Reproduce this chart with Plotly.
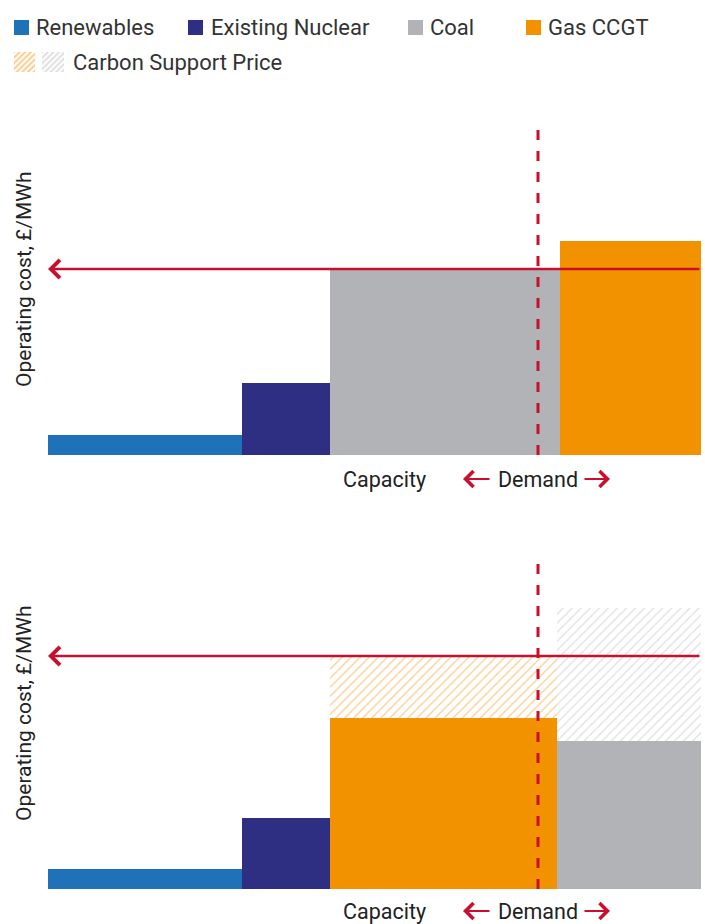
import plotly.graph_objects as go
import numpy as np

W, H = 705, 924

# ---------------- data ----------------
legend_labels = ["Renewables", "Existing Nuclear", "Coal", "Gas CCGT"]
carbon_label = "Carbon Support Price"

top_sources = ["Renewables", "Existing Nuclear", "Coal", "Gas CCGT"]
top_capacity = [19.4, 8.8, 23.0, 14.1]
top_cost = [2.0, 7.2, 18.6, 21.4]
top_carbon = [0.0, 0.0, 0.0, 0.0]

bottom_sources = ["Renewables", "Existing Nuclear", "Gas CCGT", "Coal"]
bottom_capacity = [19.4, 8.8, 22.7, 14.4]
bottom_cost = [2.0, 7.1, 17.1, 14.8]
bottom_carbon = [0.0, 0.0, 6.2, 13.3]

demand_level = 49.0
top_price = 18.6
bottom_price = 23.3
cost_max = 32.7

y_title = "Operating cost, £/MWh"
x_title = "Capacity"
demand_title = "Demand"

# ---------------- styles ----------------
COL = {
    "Renewables": "#1F71B8",
    "Existing Nuclear": "#2E2E83",
    "Coal": "#B2B3B7",
    "Gas CCGT": "#F39200",
}
HATCH = {"Gas CCGT": "#F49B1F", "Coal": "#BFC0C3"}
RED = "#C8102E"
TXT = "#222222"
FONT = "Roboto"


def px_x(p):
    return p / W


def px_y(p):
    return 1 - p / H


fig = go.Figure()

panels = [
    dict(sources=top_sources, cap=top_capacity, cost=top_cost, carbon=top_carbon,
         price=top_price, xa="x", ya="y", base_px=455, lab_off=24),
    dict(sources=bottom_sources, cap=bottom_capacity, cost=bottom_cost, carbon=bottom_carbon,
         price=bottom_price, xa="x2", ya="y2", base_px=889, lab_off=22),
]

for pnl in panels:
    cap = np.array(pnl["cap"])
    left = np.concatenate([[0], np.cumsum(cap)[:-1]])
    centers = left + cap / 2
    for i, s in enumerate(pnl["sources"]):
        fig.add_trace(go.Bar(
            x=[centers[i]], y=[pnl["cost"][i]], width=[cap[i]], base=0,
            marker=dict(color=COL[s], line=dict(width=0)),
            xaxis=pnl["xa"], yaxis=pnl["ya"], name=s, showlegend=False,
        ))
        if pnl["carbon"][i] > 0:
            fig.add_trace(go.Bar(
                x=[centers[i]], y=[pnl["carbon"][i]], width=[cap[i]], base=pnl["cost"][i],
                marker=dict(color="white", line=dict(width=0),
                            pattern=dict(shape="/", fgcolor=HATCH[s], bgcolor="white",
                                         size=6.4, solidity=0.2)),
                xaxis=pnl["xa"], yaxis=pnl["ya"], name=carbon_label, showlegend=False,
            ))
    # demand dashed line
    fig.add_trace(go.Scatter(
        x=[demand_level, demand_level], y=[0, cost_max], mode="lines",
        line=dict(color=RED, width=3, dash="10px,11px"),
        xaxis=pnl["xa"], yaxis=pnl["ya"], showlegend=False, hoverinfo="skip",
    ))
    total = float(cap.sum())
    # price line with arrow to the cost axis
    fig.add_annotation(
        x=0, y=pnl["price"], ax=total, ay=pnl["price"],
        xref=pnl["xa"], yref=pnl["ya"], axref=pnl["xa"], ayref=pnl["ya"],
        text="", showarrow=True, arrowhead=4, arrowsize=1.35, arrowwidth=2.6,
        arrowcolor=RED, standoff=0, startstandoff=0,
    )
    # axis labels
    base = pnl["base_px"]
    lab_y = base + pnl["lab_off"]
    fig.add_annotation(
        x=px_x(24), y=px_y(base - 176), xref="paper", yref="paper",
        xanchor="center", yanchor="middle",
        text=y_title, textangle=-90, showarrow=False,
        font=dict(family=FONT, size=21, color=TXT),
    )
    fig.add_annotation(
        x=px_x(384), y=px_y(lab_y), xref="paper", yref="paper",
        xanchor="center", yanchor="middle", borderpad=0,
        text=x_title, showarrow=False,
        font=dict(family=FONT, size=21.5, color=TXT),
    )
    fig.add_annotation(
        x=demand_level, y=px_y(lab_y), xref=pnl["xa"], yref="paper",
        xanchor="center", yanchor="middle", borderpad=0,
        text=demand_title, showarrow=False,
        font=dict(family=FONT, size=21.5, color=TXT),
    )
    # demand arrows
    for head, off in [(463, 28), (610, -27)]:
        fig.add_annotation(
            x=px_x(head), y=px_y(lab_y), xref="paper", yref="paper",
            ax=off, ay=0, text="", showarrow=True, arrowhead=4,
            arrowsize=1.55, arrowwidth=2, arrowcolor=RED, standoff=0,
        )

# ---------------- legend ----------------
legend_sq = [14, 188, 408, 526]
legend_tx = [34, 209, 428, 546]
for lab, sx, tx in zip(legend_labels, legend_sq, legend_tx):
    fig.add_shape(type="rect", xref="paper", yref="paper",
                  x0=px_x(sx), x1=px_x(sx + 15), y0=px_y(35), y1=px_y(20),
                  fillcolor=COL[lab], line=dict(width=0))
    fig.add_annotation(x=px_x(tx), y=px_y(27.5), xref="paper", yref="paper",
                       xanchor="left", yanchor="middle",
                       text=lab, showarrow=False,
                       font=dict(family=FONT, size=22, color="#333333"))

for s, cx in [("Gas CCGT", 0), ("Coal", 1)]:
    fig.add_trace(go.Bar(
        x=[cx], y=[1], width=[0.737], base=0,
        marker=dict(color="white", line=dict(width=0),
                    pattern=dict(shape="/", fgcolor=HATCH[s], bgcolor="white",
                                 size=4, solidity=0.5)),
        xaxis="x3", yaxis="y3", showlegend=False, hoverinfo="skip",
    ))
fig.add_annotation(x=px_x(71), y=px_y(62), xref="paper", yref="paper",
                   xanchor="left", yanchor="middle",
                   text=carbon_label, showarrow=False,
                   font=dict(family=FONT, size=22, color="#333333"))

axis_off = dict(visible=False, showgrid=False, zeroline=False, fixedrange=True)
fig.update_layout(
    width=W, height=H, margin=dict(l=0, r=0, t=0, b=0),
    paper_bgcolor="white", plot_bgcolor="white", showlegend=False,
    barmode="overlay", bargap=0,
    xaxis=dict(domain=[px_x(48), px_x(701)], range=[0, sum(top_capacity)], **axis_off),
    yaxis=dict(domain=[px_y(455), px_y(128)], range=[0, cost_max], **axis_off),
    xaxis2=dict(domain=[px_x(48), px_x(701)], range=[0, sum(bottom_capacity)], **axis_off),
    yaxis2=dict(domain=[px_y(889), px_y(562)], range=[0, cost_max], **axis_off),
    xaxis3=dict(domain=[px_x(14), px_x(64)], range=[-0.368, 1.386], **axis_off),
    yaxis3=dict(domain=[px_y(72), px_y(52)], range=[0, 1], **axis_off),
)

fig.write_html("out.html")
